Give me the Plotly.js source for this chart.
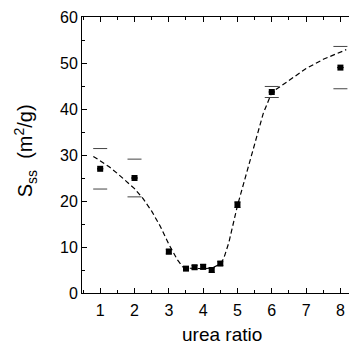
<!DOCTYPE html>
<html><head><meta charset="utf-8">
<script src="https://cdn.plot.ly/plotly-3.0.1.min.js"></script>
<style>html,body{margin:0;padding:0;background:#fff;}#chart{width:349px;height:346px;}</style>
</head><body><div id="chart"></div>
<script>
var ureaRatio = [1, 2, 3, 3.5, 3.75, 4, 4.25, 4.5, 5, 6, 8];
var surfaceArea = [27.0, 25.0, 9.0, 5.3, 5.6, 5.7, 5.0, 6.4, 19.2, 43.7, 49.0];
var errorSize = [4.4, 4.1, 0.5, 0.4, 0.4, 0.5, 0.5, 0.4, 0.6, 1.2, 4.6];

var fitX = [0.8, 1, 1.25, 1.5, 1.75, 2, 2.25, 2.5, 2.75, 3, 3.25, 3.4, 3.5, 3.75, 4, 4.25, 4.5, 4.6, 4.75, 5, 5.25, 5.5, 5.75, 6, 6.5, 7, 7.5, 8, 8.17];
var fitY = [29.7, 28.7, 27.5, 26.0, 24.4, 22.7, 20.5, 17.8, 14.5, 10.6, 7.2, 5.7, 5.4, 5.3, 5.3, 5.4, 6.3, 7.5, 11.0, 19.0, 25.5, 32.0, 39.0, 43.6, 46.3, 48.8, 50.8, 52.4, 52.9];

var xTicks = [1, 2, 3, 4, 5, 6, 7, 8];
var yTicks = [0, 10, 20, 30, 40, 50, 60];

var upperCap = surfaceArea.map(function (v, i) { return v + errorSize[i]; });
var lowerCap = surfaceArea.map(function (v, i) { return v - errorSize[i]; });
var bigErr = errorSize.map(function (e) { return e > 1; });
var capX = [], capY = [];
ureaRatio.forEach(function (x, i) {
  if (bigErr[i]) { capX.push(x, x); capY.push(upperCap[i], lowerCap[i]); }
});

var font = 'Liberation Sans, Arial, sans-serif';
var data = [
  {x: fitX, y: fitY, type: 'scatter', mode: 'lines', line: {color: '#000', width: 1.2, dash: '5px,3px'}, hoverinfo: 'skip'},
  {x: capX, y: capY, type: 'scatter', mode: 'markers', marker: {symbol: 'line-ew', size: 10, line: {color: '#444', width: 1}}},
  {x: ureaRatio, y: surfaceArea, type: 'scatter', mode: 'markers', marker: {symbol: 'square', size: 6, color: '#000'},
   error_y: {type: 'data', array: errorSize.map(function (e) { return e > 1 ? 0 : e; }), visible: true, color: '#000', thickness: 1, width: 3}}
];

var layout = {
  width: 349, height: 346,
  margin: {l: 82, r: 0, t: 17, b: 53},
  paper_bgcolor: '#fff', plot_bgcolor: '#fff',
  showlegend: false,
  font: {family: font, color: '#000'},
  xaxis: {
    range: [0.47, 8.25], tickmode: 'array', tickvals: xTicks, ticktext: xTicks.map(String),
    ticks: 'inside', ticklen: 5, tickwidth: 1, tickcolor: '#000', ticklabelstandoff: 3,
    minor: {dtick: 0.5, tick0: 0.5, ticks: 'inside', ticklen: 3, tickwidth: 1, tickcolor: '#000', showgrid: false},
    showline: true, linecolor: '#000', linewidth: 1, mirror: 'ticks',
    showgrid: false, zeroline: false, tickfont: {size: 16, family: font}
  },
  yaxis: {
    range: [0, 60], tickmode: 'array', tickvals: yTicks, ticktext: yTicks.map(String),
    ticks: 'inside', ticklen: 5, tickwidth: 1, tickcolor: '#000',
    minor: {dtick: 5, ticks: 'inside', ticklen: 3, tickwidth: 1, tickcolor: '#000', showgrid: false},
    showline: true, linecolor: '#000', linewidth: 1,
    showgrid: false, zeroline: false, tickfont: {size: 16, family: font}
  },
  annotations: [
    {text: 'urea ratio', xref: 'paper', yref: 'paper', x: 0.525, y: -0.108, xanchor: 'center', yanchor: 'top', borderpad: 0, showarrow: false, font: {size: 19, family: font}},
    {text: 'S<sub>ss</sub>  (m<sup>2</sup>/g)', xref: 'paper', yref: 'paper', x: -0.213, y: 0.514, xanchor: 'center', yanchor: 'middle', textangle: -90, showarrow: false, font: {size: 20, family: font}}
  ]
};
Plotly.newPlot('chart', data, layout, {displayModeBar: false, staticPlot: true});
</script></body></html>
